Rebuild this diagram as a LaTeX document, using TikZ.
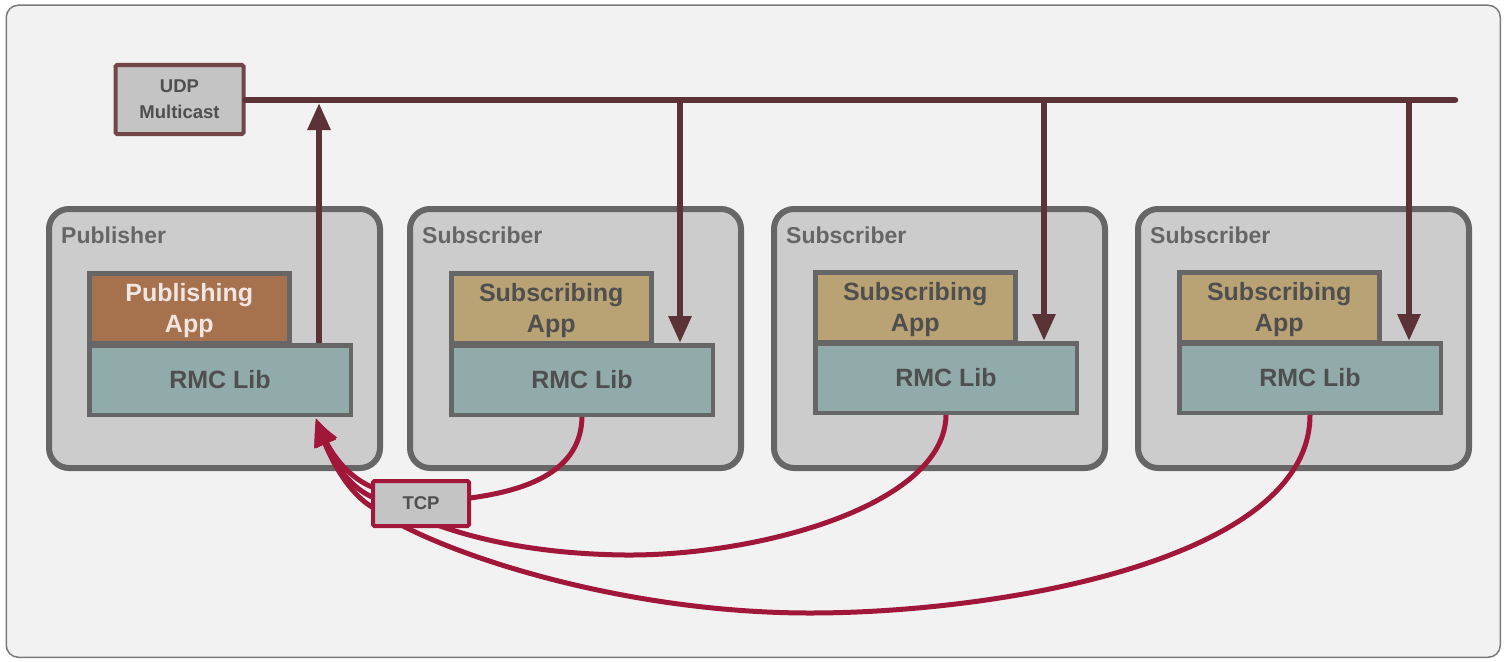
\documentclass[tikz,border=0pt]{standalone}
\usepackage{fontspec}
\setmainfont{Liberation Sans}
\usetikzlibrary{arrows.meta,bending}
\definecolor{bgc}{HTML}{F2F2F2}
\definecolor{outerc}{HTML}{7A7A7A}
\definecolor{contfill}{HTML}{CCCCCC}
\definecolor{contline}{HTML}{666666}
\definecolor{pubapp}{HTML}{A6714D}
\definecolor{subapp}{HTML}{B9A273}
\definecolor{libc}{HTML}{91AAAA}
\definecolor{darktext}{HTML}{4F4F4F}
\definecolor{lighttext}{HTML}{F3E6E2}
\definecolor{busc}{HTML}{5B3236}
\definecolor{udpline}{HTML}{714646}
\definecolor{boxfill}{HTML}{C4C4C4}
\definecolor{tcpred}{HTML}{A0173A}
\tikzset{
  container/.style={draw=contline, fill=contfill, line width=6pt, rounded corners=20pt,
    minimum width=331pt, minimum height=259pt, anchor=north west, inner sep=0pt},
  clabel/.style={anchor=west, text=contline, font=\fontsize{23}{27}\selectfont\bfseries, inner sep=0pt},
  appbox/.style={draw=contline, line width=4.5pt, minimum width=200pt, minimum height=69.5pt,
    anchor=north west, inner sep=0pt},
  apptext/.style={inner sep=0pt, align=center, font=\fontsize{25}{31}\selectfont\bfseries},
  libbox/.style={draw=contline, fill=libc, line width=4.5pt, minimum width=261.5pt, minimum height=69.5pt,
    anchor=north west, inner sep=0pt, text=darktext, font=\fontsize{25}{30}\selectfont\bfseries},
  busline/.style={draw=busc, line width=6.5pt},
  udparrow/.style={draw=busc, line width=6pt, -{Triangle[length=27pt,width=22pt]}},
  tcparrow/.style={draw=tcpred, line width=5pt, -{Triangle[length=28pt,width=22pt,bend]}},
}
\begin{document}
\begin{tikzpicture}[x=1pt,y=-1pt]
\useasboundingbox (0,0) rectangle (1506,661);
\node[draw=outerc, fill=bgc, line width=1.5pt, rounded corners=12pt, minimum width=1494pt,
  minimum height=652pt, anchor=north west, inner sep=0pt] (frame) at (5.5,4.5) {};

% containers
\node[container] (pub) at (46,206) {};
\node[container] (sub1) at (407,206) {};
\node[container] (sub2) at (771,206) {};
\node[container] (sub3) at (1135,206) {};
\node[clabel] (publbl) at (61,235) {Publisher};
\node[clabel] (sub1lbl) at (422,235) {Subscriber};
\node[clabel] (sub2lbl) at (786,235) {Subscriber};
\node[clabel] (sub3lbl) at (1150,235) {Subscriber};

% apps
\node[appbox, fill=pubapp] (pubappn) at (87,271) {};
\node[appbox, fill=subapp] (app1) at (449,271) {};
\node[appbox, fill=subapp] (app2) at (813,270) {};
\node[appbox, fill=subapp] (app3) at (1177,270) {};
\node[apptext, text=lighttext] (pubappt) at ([yshift=-3pt]pubappn.center) {Publishing\\App};
\node[apptext, text=darktext] (app1t) at ([yshift=-3pt]app1.center) {Subscribing\\App};
\node[apptext, text=darktext] (app2t) at ([yshift=-3pt]app2.center) {Subscribing\\App};
\node[apptext, text=darktext] (app3t) at ([yshift=-3pt]app3.center) {Subscribing\\App};

% libs
\node[libbox] (lib0) at (87,343) {RMC Lib};
\node[libbox] (lib1) at (449,343) {RMC Lib};
\node[libbox] (lib2) at (813,341) {RMC Lib};
\node[libbox] (lib3) at (1177,341) {RMC Lib};

% UDP multicast
\node[draw=udpline, fill=boxfill, line width=4pt, rounded corners=1.5pt, minimum width=128pt,
  minimum height=69pt, inner sep=0pt, align=center, text=darktext,
  font=\fontsize{18.5}{26}\selectfont\bfseries] (udp) at (179.5,99.5) {UDP\\Multicast};
\coordinate (busend) at (1455,100);
\coordinate (b0) at (319,100);
\coordinate (b1) at (680,100);
\coordinate (b2) at (1044,100);
\coordinate (b3) at (1409,100);
\draw[busline, line cap=round] (udp.east |- busend) -- (busend);
\draw[udparrow, shorten >=3pt] (lib0.north -| b0) -- (b0);
\draw[udparrow] (b1) -- (b1 |- lib1.north);
\draw[udparrow] (b2) -- (b2 |- lib2.north);
\draw[udparrow] (b3) -- (b3 |- lib3.north);

% TCP curves
\coordinate (T) at (316,418);
\draw[tcparrow] (lib1.south) .. controls (581,470) and (530,490) .. (470,498)
   .. controls (430,503) and (400,495) .. (372,487) .. controls (350,478) and (328,455) .. (T);
\draw[tcparrow] (lib2.south) .. controls (945,505) and (760,556) .. (625,555)
   .. controls (540,554) and (480,540) .. (440,526) .. controls (410,515) and (390,505) .. (372,497)
   .. controls (348,486) and (328,458) .. (T);
\draw[tcparrow] (lib3.south) .. controls (1310,560) and (1000,613) .. (810,613)
   .. controls (640,613) and (480,565) .. (405,527) .. controls (390,519) and (382,512) .. (372,507)
   .. controls (350,494) and (328,460) .. (T);

\node[draw=tcpred, fill=boxfill, line width=4pt, rounded corners=1.5pt, minimum width=96pt,
  minimum height=45pt, inner sep=0pt, text=darktext,
  font=\fontsize{18.5}{22}\selectfont\bfseries] (tcp) at (421,503.5) {TCP};
\end{tikzpicture}
\end{document}
